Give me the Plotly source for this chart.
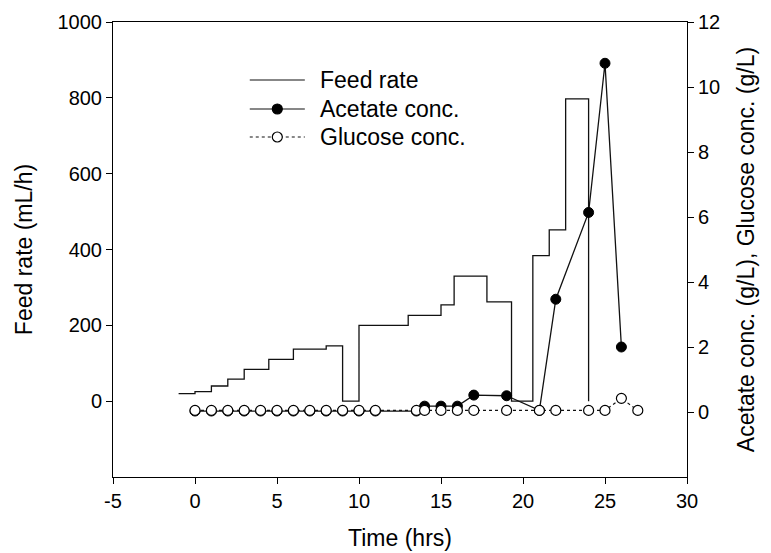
import plotly.graph_objects as go

# ---- data ----
feed_time = [-1, 0, 1, 2, 3, 4.5, 6, 8, 9, 10, 13, 15, 15.8, 17.8, 19.3, 20.6, 21.6, 22.6, 24]
feed_rate = [20, 25, 40, 58, 84, 110, 137, 146, 0, 200, 226, 254, 330, 262, 0, 384, 452, 797, 0]

acetate_time = [0, 1, 2, 3, 4, 5, 6, 7, 8, 9, 10, 11, 13.5, 14, 15, 16, 17, 19, 21, 22, 24, 25, 26]
acetate_conc = [0.03, 0.03, 0.03, 0.03, 0.03, 0.03, 0.03, 0.03, 0.03, 0.03, 0.03, 0.03, 0.03,
                0.18, 0.18, 0.18, 0.52, 0.50, 0.05, 3.47, 6.14, 10.73, 2.0]

glucose_time = [0, 1, 2, 3, 4, 5, 6, 7, 8, 9, 10, 11, 13.5, 14, 15, 16, 17, 19, 21, 22, 24, 25, 26, 27]
glucose_conc = [0.05, 0.05, 0.05, 0.05, 0.05, 0.05, 0.05, 0.05, 0.05, 0.05, 0.05, 0.05, 0.05,
                0.05, 0.05, 0.05, 0.05, 0.05, 0.05, 0.05, 0.05, 0.05, 0.42, 0.05]

x_ticks = [-5, 0, 5, 10, 15, 20, 25, 30]
x_tick_text = ["-5", "0", "5", "10", "15", "20", "25", "30"]
y1_ticks = [0, 200, 400, 600, 800, 1000]
y2_ticks = [0, 2, 4, 6, 8, 10, 12]
legend_labels = ["Feed rate", "Acetate conc.", "Glucose conc."]

FONT = "Liberation Sans, Arial, sans-serif"
INK = "#111111"
TICK_SIZE = 20
TITLE_SIZE = 23
LEG_SIZE = 23

fig = go.Figure()
fig.add_trace(go.Scatter(x=feed_time, y=feed_rate, mode="lines", line=dict(shape="hv", color=INK, width=1.3),
                         name=legend_labels[0], showlegend=False))
fig.add_trace(go.Scatter(x=acetate_time, y=acetate_conc, mode="lines+markers", yaxis="y2",
                         line=dict(color=INK, width=1.3),
                         marker=dict(symbol="circle", size=10, color="black", line=dict(color="black", width=1)),
                         name=legend_labels[1], showlegend=False))
fig.add_trace(go.Scatter(x=glucose_time, y=glucose_conc, mode="lines+markers", yaxis="y2",
                         line=dict(color=INK, width=1.2, dash="dot"),
                         marker=dict(symbol="circle", size=10, color="white", line=dict(color="black", width=1.2)),
                         name=legend_labels[2], showlegend=False))

# manual legend (samples in paper coordinates)
L, R, T, B = 113.4, 686.7, 22, 477
W, H = R - L, B - T
def px(x):
    return (x - L) / W
def py(y):
    return (B - y) / H

rows = [80, 109, 137]
dashes = ["solid", "solid", "dot"]
fills = [None, "black", "white"]
for lab, ry, dsh, fc in zip(legend_labels, rows, dashes, fills):
    fig.add_shape(type="line", xref="paper", yref="paper", x0=px(250), x1=px(305), y0=py(ry), y1=py(ry),
                  line=dict(color=INK, width=1.2, dash=dsh))
    if fc is not None:
        fig.add_shape(type="circle", xref="paper", yref="paper", xsizemode="pixel", ysizemode="pixel",
                      xanchor=px(277.5), yanchor=py(ry), x0=-5, x1=5, y0=-5, y1=5,
                      fillcolor=fc, line=dict(color="black", width=1.2))
    fig.add_annotation(xref="paper", yref="paper", x=px(318), y=py(ry), text=lab, showarrow=False,
                       xanchor="left", yanchor="middle", font=dict(family=FONT, size=LEG_SIZE, color="black"))

axis_common = dict(showline=True, linecolor="black", linewidth=1, ticks="outside", ticklen=6,
                   tickcolor="black", tickwidth=1, showgrid=False, zeroline=False, automargin=False,
                   tickfont=dict(family=FONT, size=TICK_SIZE, color="black"))

fig.update_layout(
    width=771, height=553,
    margin=dict(l=113, r=84, t=22, b=76),
    plot_bgcolor="white", paper_bgcolor="white",
    showlegend=False,
    xaxis=dict(range=[-5, 30], tickvals=x_ticks, ticktext=x_tick_text, mirror=True,
               title=dict(text="Time (hrs)", font=dict(family=FONT, size=TITLE_SIZE, color="black"), standoff=18),
               **axis_common),
    yaxis=dict(range=[-200, 1000], tickvals=y1_ticks,
               title=dict(text="Feed rate (mL/h)", font=dict(family=FONT, size=TITLE_SIZE, color="black"), standoff=18),
               **axis_common),
    yaxis2=dict(range=[-2, 12], tickvals=y2_ticks, overlaying="y", side="right",
                title=dict(text="Acetate conc. (g/L), Glucose conc. (g/L)", font=dict(family=FONT, size=TITLE_SIZE, color="black"), standoff=18),
                **axis_common),
)

fig.write_html("out.html")
